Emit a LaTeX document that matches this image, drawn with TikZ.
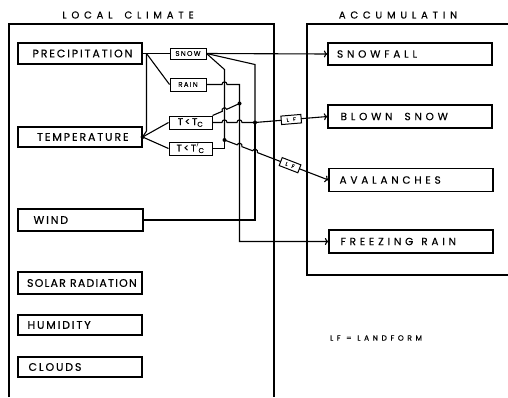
\documentclass[tikz,border=0pt]{standalone}
\usepackage{fontspec}
\setmainfont{Poppins}
\newfontfamily\fa[LetterSpace=17,FakeBold=0.4]{Poppins}
\newfontfamily\fan[LetterSpace=11,FakeBold=0.4]{Poppins}
\newfontfamily\fb[LetterSpace=36,FakeBold=0.4]{Poppins}
\newfontfamily\ft[LetterSpace=48,FakeBold=0.4]{Poppins}
\newfontfamily\fs[LetterSpace=18,FakeBold=0.3]{Poppins}
\newfontfamily\ftc[FakeBold=0.4]{Poppins}
\newfontfamily\fl[LetterSpace=48,FakeBold=0.3]{Poppins}
\usetikzlibrary{arrows.meta,calc}
\begin{document}
\begin{tikzpicture}[x=1pt,y=-1pt, line width=1.1pt,
  box/.style={draw, line width=1.2pt, inner sep=0pt},
  lab/.style={inner sep=0pt, anchor=west},
  leftlab/.style={lab, font=\fa\fontsize{11}{13}\selectfont},
  rightlab/.style={lab, font=\fb\fontsize{10.5}{13}\selectfont},
  small/.style={box, line width=1pt, font=\fs\fontsize{7}{8}\selectfont},
  tbox/.style={box, line width=1pt, font=\ftc\fontsize{10}{12}\selectfont},
  lfbox/.style={draw, fill=white, line width=1pt, minimum width=20pt, minimum height=8.5pt, inner sep=0pt, font=\fl\fontsize{5.5}{6}\selectfont},
  arr/.style={-{To[length=3.5pt,width=7pt]}}
]
\useasboundingbox (0,0) rectangle (508,397);

% frames
\draw (9,397) -- (9,24) -- (274,24) -- (274,397);
\draw (508,24) -- (307,24) -- (307,275) -- (508,275);
\node[font=\ft\fontsize{10}{12}\selectfont] (t1) at (128,15) {LOCAL\hspace{12pt}CLIMATE};
\node[font=\ft\fontsize{10}{12}\selectfont] (t2) at (398,15) {ACCUMULATIN};

% left boxes
\node[box, minimum width=124pt, minimum height=21pt] (prec) at (80,53.5) {};
\node[leftlab] (precl) at (32,53.5) {PRECIPITATION};
\node[box, minimum width=124pt, minimum height=20pt] (temp) at (80,137) {};
\node[leftlab] (templ) at (36.5,137) {TEMPERATURE};
\node[box, minimum width=125pt, minimum height=22pt] (wind) at (80.5,220) {};
\node[leftlab] (windl) at (33,220) {WIND};
\node[box, minimum width=124pt, minimum height=22pt] (solar) at (80,283) {};
\node[lab, font=\fan\fontsize{11}{13}\selectfont] (solarl) at (26.5,283) {SOLAR RADIATION};
\node[box, minimum width=124pt, minimum height=20pt] (humid) at (80,325) {};
\node[leftlab] (humidl) at (27,325) {HUMIDITY};
\node[box, minimum width=124pt, minimum height=20pt] (clouds) at (80,367) {};
\node[leftlab] (cloudsl) at (28,367) {CLOUDS};

% small boxes
\node[small, minimum width=36pt, minimum height=11pt] (snow) at (188,53.5) {SNOW};
\node[small, minimum width=36pt, minimum height=13pt] (rain) at (188,84.5) {RAIN};
\node[tbox, minimum width=43pt, minimum height=13pt] (tc) at (190.5,122.5) {T\,<\,T\textsubscript{C}};
\node[tbox, minimum width=43pt, minimum height=13pt] (tcp) at (190.5,148.5) {T\,<\,T\kern0.2pt$^{\prime}$\kern-0.6pt\textsubscript{C}};

% right boxes
\node[box, minimum width=164pt, minimum height=22pt] (snowfall) at (410,54) {};
\node[rightlab] (snowfalll) at (336.5,54) {SNOWFALL};
\node[box, minimum width=164pt, minimum height=23pt] (blown) at (410,116.5) {};
\node[rightlab] (blownl) at (340,116.5) {BLOWN\hspace{12pt}SNOW};
\node[box, minimum width=164pt, minimum height=23pt] (aval) at (411,180) {};
\node[rightlab] (avall) at (339,180) {AVALANCHES};
\node[box, minimum width=164pt, minimum height=23pt] (frz) at (411,241.5) {};
\node[rightlab] (frzl) at (340,241.5) {FREEZING\hspace{8pt}RAIN};

\node[font=\fl\fontsize{7.5}{8}\selectfont] (lfnote) at (376,338) {LF = LANDFORM};

% junctions
\coordinate (pj) at (146.5,53.5);
\coordinate (pk) at (146.5,131);
\coordinate (rc) at (239.5,84.5);
\coordinate (fc) at (239.5,241.5);
\coordinate (sa) at (224.5,69.5);
\coordinate (sb) at (255,64.5);
\coordinate (wc) at (255,220);
\coordinate (tpc) at (224.5,148.5);
\coordinate (tj) at (temp.east);
\coordinate (fj) at (239.5,103.5);
\coordinate (bj) at (255,122.5);
\coordinate (aj) at (224.5,140);

% precipitation / temperature
\draw (prec.east) -- (snow.west);
\draw (pj) -- (rain.west);
\draw (pj) -- (pk) -- (tj);
\draw (tj) -- (tc.west);
\draw (tj) -- (tcp.west);

% snow
\draw[arr] (snow.east) -- (snowfall.west);
\draw (snow.east) -- (sa) -- (aj);
\draw (snow.east) -- (sb) -- (bj);

% wind
\draw (wind.east) -- (wc) -- (bj);

% rain -> freezing rain
\draw[arr] (rain.east) -- (222,84.5) .. controls (222,81) and (227,81) .. (227,84.5) -- (rc) -- (fc) -- (frz.west);

% T < Tc
\draw (tc.east) -- (222,122.5) .. controls (222,119) and (227,119) .. (227,122.5)
  -- (237,122.5) .. controls (237,119) and (242,119) .. (242,122.5) -- (bj);
\draw (tc.north east) -- (222.22,111.35) .. controls (220.86,108.35) and (225.41,106.28) .. (226.78,109.28) -- (fj);

% T < T'c
\draw (tcp.east) -- (tpc) -- (aj);

% blown snow
\draw[arr] (bj) -- node[lfbox, sloped] (lf1) {L F} (blown.west);

% avalanches
\draw[arr] (aj) -- (237.17,144.85) .. controls (238.35,141.77) and (243.02,143.55) .. (241.84,146.63)
  -- (252.67,150.78) .. controls (253.85,147.70) and (258.52,149.48) .. (257.34,152.56)
  -- node[lfbox, sloped, pos=0.46] (lf2) {L F} (aval.west);

% junction dots
\fill (tj) circle (2pt) (fj) circle (2pt) (bj) circle (2pt) (aj) circle (2pt);
\end{tikzpicture}
\end{document}
